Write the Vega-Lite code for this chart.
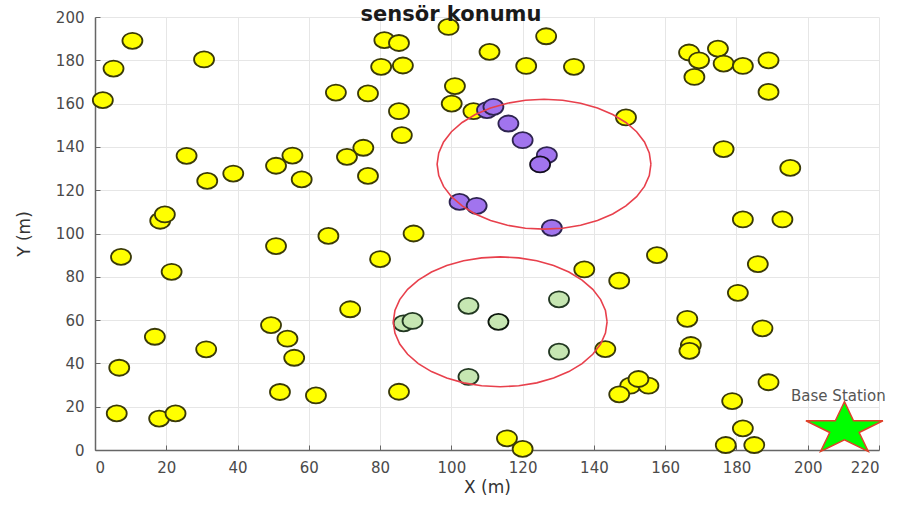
{
  "$schema": "https://vega.github.io/schema/vega-lite/v6.json",
  "width": 784,
  "height": 433,
  "autosize": {"type": "none"},
  "padding": {"left": 95, "top": 17, "right": 29, "bottom": 58},
  "background": "white",
  "title": {"text": "sensör konumu", "font": "DejaVu Sans", "fontSize": 21, "fontWeight": "bold", "color": "#1a1a1a", "anchor": "middle", "offset": -15, "dx": -36},
  "config": {
    "view": {"stroke": null},
    "axis": {"labelFont": "DejaVu Sans", "labelFontSize": 15, "labelColor": "#4a4a4a", "titleFont": "DejaVu Sans", "titleFontSize": 17, "titleFontWeight": "normal", "titleColor": "#333333", "gridColor": "#e6e6e6", "gridWidth": 1, "domainColor": "#666666", "domainWidth": 1.5, "tickColor": "#666666", "tickSize": -5}
  },
  "datasets": {
    "nodes": [
      {"x": 10.5, "y": 189, "t": "sensor"}, {"x": 5.2, "y": 176.2, "t": "sensor"}, {"x": 2.2, "y": 161.6, "t": "sensor"},
      {"x": 30.6, "y": 180.4, "t": "sensor"}, {"x": 25.7, "y": 135.9, "t": "sensor"}, {"x": 31.5, "y": 124.3, "t": "sensor"},
      {"x": 38.8, "y": 127.7, "t": "sensor"}, {"x": 18.3, "y": 105.9, "t": "sensor"}, {"x": 19.6, "y": 108.8, "t": "sensor"},
      {"x": 50.8, "y": 131.3, "t": "sensor"}, {"x": 55.4, "y": 136, "t": "sensor"}, {"x": 58, "y": 125, "t": "sensor"},
      {"x": 67.6, "y": 165.1, "t": "sensor"}, {"x": 76.6, "y": 164.7, "t": "sensor"}, {"x": 70.7, "y": 135.4, "t": "sensor"},
      {"x": 75.3, "y": 139.6, "t": "sensor"}, {"x": 76.6, "y": 126.6, "t": "sensor"}, {"x": 81.2, "y": 189.3, "t": "sensor"},
      {"x": 85.3, "y": 188, "t": "sensor"}, {"x": 80.3, "y": 177, "t": "sensor"}, {"x": 86.4, "y": 177.6, "t": "sensor"},
      {"x": 85.3, "y": 156.5, "t": "sensor"}, {"x": 86.1, "y": 145.4, "t": "sensor"}, {"x": 99.2, "y": 195.4, "t": "sensor"},
      {"x": 101, "y": 168.1, "t": "sensor"}, {"x": 100.1, "y": 160, "t": "sensor"}, {"x": 106.2, "y": 156.5, "t": "sensor"},
      {"x": 110.7, "y": 183.9, "t": "sensor"}, {"x": 126.6, "y": 191.1, "t": "sensor"}, {"x": 121, "y": 177.4, "t": "sensor"},
      {"x": 134.4, "y": 177, "t": "sensor"}, {"x": 149, "y": 153.6, "t": "sensor"}, {"x": 166.7, "y": 183.6, "t": "sensor"},
      {"x": 169.5, "y": 180, "t": "sensor"}, {"x": 174.8, "y": 185.4, "t": "sensor"}, {"x": 176.4, "y": 178.5, "t": "sensor"},
      {"x": 181.8, "y": 177.4, "t": "sensor"}, {"x": 189, "y": 180, "t": "sensor"}, {"x": 168.2, "y": 172.3, "t": "sensor"},
      {"x": 189, "y": 165.4, "t": "sensor"}, {"x": 176.4, "y": 139, "t": "sensor"}, {"x": 195.1, "y": 130.3, "t": "sensor"},
      {"x": 181.8, "y": 106.5, "t": "sensor"}, {"x": 192.9, "y": 106.5, "t": "sensor"}, {"x": 65.5, "y": 98.9, "t": "sensor"},
      {"x": 89.4, "y": 100, "t": "sensor"}, {"x": 50.8, "y": 94.2, "t": "sensor"}, {"x": 7.3, "y": 89.2, "t": "sensor"},
      {"x": 21.5, "y": 82.3, "t": "sensor"}, {"x": 80, "y": 88.2, "t": "sensor"}, {"x": 71.6, "y": 65, "t": "sensor"},
      {"x": 49.4, "y": 57.7, "t": "sensor"}, {"x": 54, "y": 51.4, "t": "sensor"}, {"x": 55.9, "y": 42.6, "t": "sensor"},
      {"x": 16.8, "y": 52.3, "t": "sensor"}, {"x": 31.2, "y": 46.5, "t": "sensor"}, {"x": 6.8, "y": 38, "t": "sensor"},
      {"x": 51.9, "y": 26.8, "t": "sensor"}, {"x": 62, "y": 25.2, "t": "sensor"}, {"x": 85.3, "y": 26.9, "t": "sensor"},
      {"x": 6.1, "y": 16.9, "t": "sensor"}, {"x": 18, "y": 14.5, "t": "sensor"}, {"x": 22.6, "y": 16.9, "t": "sensor"},
      {"x": 157.7, "y": 90, "t": "sensor"}, {"x": 186, "y": 85.9, "t": "sensor"}, {"x": 137.3, "y": 83.4, "t": "sensor"},
      {"x": 147.1, "y": 78.2, "t": "sensor"}, {"x": 180.4, "y": 72.6, "t": "sensor"}, {"x": 166.2, "y": 60.6, "t": "sensor"},
      {"x": 187.3, "y": 56.2, "t": "sensor"}, {"x": 167.2, "y": 48.5, "t": "sensor"}, {"x": 166.8, "y": 45.8, "t": "sensor"},
      {"x": 143.2, "y": 46.6, "t": "sensor"}, {"x": 150.2, "y": 29.7, "t": "sensor"}, {"x": 155.3, "y": 29.7, "t": "sensor"},
      {"x": 152.5, "y": 32.8, "t": "sensor"}, {"x": 147.1, "y": 25.7, "t": "sensor"}, {"x": 189, "y": 31.3, "t": "sensor"},
      {"x": 178.8, "y": 22.6, "t": "sensor"}, {"x": 181.8, "y": 10, "t": "sensor"}, {"x": 177, "y": 2.3, "t": "sensor"},
      {"x": 185, "y": 2.3, "t": "sensor"}, {"x": 115.6, "y": 5.4, "t": "sensor"}, {"x": 120, "y": 0.5, "t": "sensor"},
      {"x": 110, "y": 157, "t": "member1"}, {"x": 111.8, "y": 158.5, "t": "member1"}, {"x": 116, "y": 150.8, "t": "member1"},
      {"x": 120, "y": 143.1, "t": "member1"}, {"x": 126.8, "y": 136.2, "t": "member1"}, {"x": 102.3, "y": 114.6, "t": "member1"},
      {"x": 107.1, "y": 112.8, "t": "member1"}, {"x": 128.2, "y": 102.6, "t": "member1"},
      {"x": 86.6, "y": 58.5, "t": "member2"}, {"x": 89.1, "y": 59.6, "t": "member2"}, {"x": 104.8, "y": 66.6, "t": "member2"},
      {"x": 130.2, "y": 69.6, "t": "member2"}, {"x": 130.2, "y": 45.4, "t": "member2"}, {"x": 104.8, "y": 33.8, "t": "member2"},
      {"x": 124.9, "y": 131.9, "t": "head1"}, {"x": 113.2, "y": 59.2, "t": "head2"}
    ],
    "circles": [
      {"c": 1, "a": 0, "x": 156, "y": 132}, {"c": 1, "a": 10, "x": 155.54, "y": 137.21}, {"c": 1, "a": 20, "x": 154.19, "y": 142.26},
      {"c": 1, "a": 30, "x": 151.98, "y": 147}, {"c": 1, "a": 40, "x": 148.98, "y": 151.28}, {"c": 1, "a": 50, "x": 145.28, "y": 154.98},
      {"c": 1, "a": 60, "x": 141, "y": 157.98}, {"c": 1, "a": 70, "x": 136.26, "y": 160.19}, {"c": 1, "a": 80, "x": 131.21, "y": 161.54},
      {"c": 1, "a": 90, "x": 126, "y": 162}, {"c": 1, "a": 100, "x": 120.79, "y": 161.54}, {"c": 1, "a": 110, "x": 115.74, "y": 160.19},
      {"c": 1, "a": 120, "x": 111, "y": 157.98}, {"c": 1, "a": 130, "x": 106.72, "y": 154.98}, {"c": 1, "a": 140, "x": 103.02, "y": 151.28},
      {"c": 1, "a": 150, "x": 100.02, "y": 147}, {"c": 1, "a": 160, "x": 97.81, "y": 142.26}, {"c": 1, "a": 170, "x": 96.46, "y": 137.21},
      {"c": 1, "a": 180, "x": 96, "y": 132}, {"c": 1, "a": 190, "x": 96.46, "y": 126.79}, {"c": 1, "a": 200, "x": 97.81, "y": 121.74},
      {"c": 1, "a": 210, "x": 100.02, "y": 117}, {"c": 1, "a": 220, "x": 103.02, "y": 112.72}, {"c": 1, "a": 230, "x": 106.72, "y": 109.02},
      {"c": 1, "a": 240, "x": 111, "y": 106.02}, {"c": 1, "a": 250, "x": 115.74, "y": 103.81}, {"c": 1, "a": 260, "x": 120.79, "y": 102.46},
      {"c": 1, "a": 270, "x": 126, "y": 102}, {"c": 1, "a": 280, "x": 131.21, "y": 102.46}, {"c": 1, "a": 290, "x": 136.26, "y": 103.81},
      {"c": 1, "a": 300, "x": 141, "y": 106.02}, {"c": 1, "a": 310, "x": 145.28, "y": 109.02}, {"c": 1, "a": 320, "x": 148.98, "y": 112.72},
      {"c": 1, "a": 330, "x": 151.98, "y": 117}, {"c": 1, "a": 340, "x": 154.19, "y": 121.74}, {"c": 1, "a": 350, "x": 155.54, "y": 126.79},
      {"c": 1, "a": 360, "x": 156, "y": 132},
      {"c": 2, "a": 0, "x": 143.7, "y": 59.2}, {"c": 2, "a": 10, "x": 143.24, "y": 64.41}, {"c": 2, "a": 20, "x": 141.89, "y": 69.46},
      {"c": 2, "a": 30, "x": 139.68, "y": 74.2}, {"c": 2, "a": 40, "x": 136.68, "y": 78.48}, {"c": 2, "a": 50, "x": 132.98, "y": 82.18},
      {"c": 2, "a": 60, "x": 128.7, "y": 85.18}, {"c": 2, "a": 70, "x": 123.96, "y": 87.39}, {"c": 2, "a": 80, "x": 118.91, "y": 88.74},
      {"c": 2, "a": 90, "x": 113.7, "y": 89.2}, {"c": 2, "a": 100, "x": 108.49, "y": 88.74}, {"c": 2, "a": 110, "x": 103.44, "y": 87.39},
      {"c": 2, "a": 120, "x": 98.7, "y": 85.18}, {"c": 2, "a": 130, "x": 94.42, "y": 82.18}, {"c": 2, "a": 140, "x": 90.72, "y": 78.48},
      {"c": 2, "a": 150, "x": 87.72, "y": 74.2}, {"c": 2, "a": 160, "x": 85.51, "y": 69.46}, {"c": 2, "a": 170, "x": 84.16, "y": 64.41},
      {"c": 2, "a": 180, "x": 83.7, "y": 59.2}, {"c": 2, "a": 190, "x": 84.16, "y": 53.99}, {"c": 2, "a": 200, "x": 85.51, "y": 48.94},
      {"c": 2, "a": 210, "x": 87.72, "y": 44.2}, {"c": 2, "a": 220, "x": 90.72, "y": 39.92}, {"c": 2, "a": 230, "x": 94.42, "y": 36.22},
      {"c": 2, "a": 240, "x": 98.7, "y": 33.22}, {"c": 2, "a": 250, "x": 103.44, "y": 31.01}, {"c": 2, "a": 260, "x": 108.49, "y": 29.66},
      {"c": 2, "a": 270, "x": 113.7, "y": 29.2}, {"c": 2, "a": 280, "x": 118.91, "y": 29.66}, {"c": 2, "a": 290, "x": 123.96, "y": 31.01},
      {"c": 2, "a": 300, "x": 128.7, "y": 33.22}, {"c": 2, "a": 310, "x": 132.98, "y": 36.22}, {"c": 2, "a": 320, "x": 136.68, "y": 39.92},
      {"c": 2, "a": 330, "x": 139.68, "y": 44.2}, {"c": 2, "a": 340, "x": 141.89, "y": 48.94}, {"c": 2, "a": 350, "x": 143.24, "y": 53.99},
      {"c": 2, "a": 360, "x": 143.7, "y": 59.2}
    ],
    "base": [{"x": 210.3, "y": 9.6, "label": "Base Station", "lx": 208.6, "ly": 22.8}]
  },
  "encoding": {
    "x": {"field": "x", "type": "quantitative", "scale": {"domain": [0, 220], "nice": false, "zero": false}, "axis": {"values": [0, 20, 40, 60, 80, 100, 120, 140, 160, 180, 200, 220], "title": "X (m)", "titlePadding": 4, "labelPadding": 15, "grid": true}},
    "y": {"field": "y", "type": "quantitative", "scale": {"domain": [0, 200], "nice": false, "zero": false}, "axis": {"values": [0, 20, 40, 60, 80, 100, 120, 140, 160, 180, 200], "title": "Y (m)", "titlePadding": 22, "labelPadding": 16, "grid": true}}
  },
  "layer": [
    {
      "data": {"name": "nodes"},
      "mark": {"type": "point", "filled": true, "shape": "M-1,0A1,0.8,0,1,1,1,0A1,0.8,0,1,1,-1,0Z", "size": 400, "opacity": 1},
      "encoding": {
        "fill": {"field": "t", "type": "nominal", "scale": {"domain": ["sensor", "member1", "member2", "head1", "head2"], "range": ["#ffff00", "#a174ee", "#c6e6b2", "#a174ee", "#c6e6b2"]}, "legend": null},
        "stroke": {"field": "t", "type": "nominal", "scale": {"domain": ["sensor", "member1", "member2", "head1", "head2"], "range": ["#3a3a08", "#2e2450", "#223822", "#120c20", "#0c160c"]}, "legend": null},
        "strokeWidth": {"field": "t", "type": "nominal", "scale": {"domain": ["sensor", "member1", "member2", "head1", "head2"], "range": [1.8, 1.8, 1.8, 2.8, 2.8]}, "legend": null}
      }
    },
    {
      "data": {"name": "circles"},
      "mark": {"type": "line", "color": "#e8404c", "strokeWidth": 1.6, "interpolate": "linear"},
      "encoding": {"detail": {"field": "c"}, "order": {"field": "a", "type": "quantitative"}}
    },
    {
      "data": {"name": "base"},
      "mark": {"type": "point", "filled": true, "shape": "M0,-0.68L0.2245,-0.21L0.951,-0.21L0.363,0.08L0.588,0.55L0,0.26L-0.588,0.55L-0.363,0.08L-0.951,-0.21L-0.2245,-0.21Z", "size": 6561, "fill": "#00ff00", "stroke": "#e0402a", "strokeWidth": 1.5, "opacity": 1},
      "encoding": {}
    },
    {
      "data": {"name": "base"},
      "mark": {"type": "text", "font": "DejaVu Sans", "fontSize": 15, "color": "#555555", "align": "center", "baseline": "alphabetic"},
      "encoding": {"x": {"field": "lx", "type": "quantitative"}, "y": {"field": "ly", "type": "quantitative"}, "text": {"field": "label"}}
    }
  ]
}
